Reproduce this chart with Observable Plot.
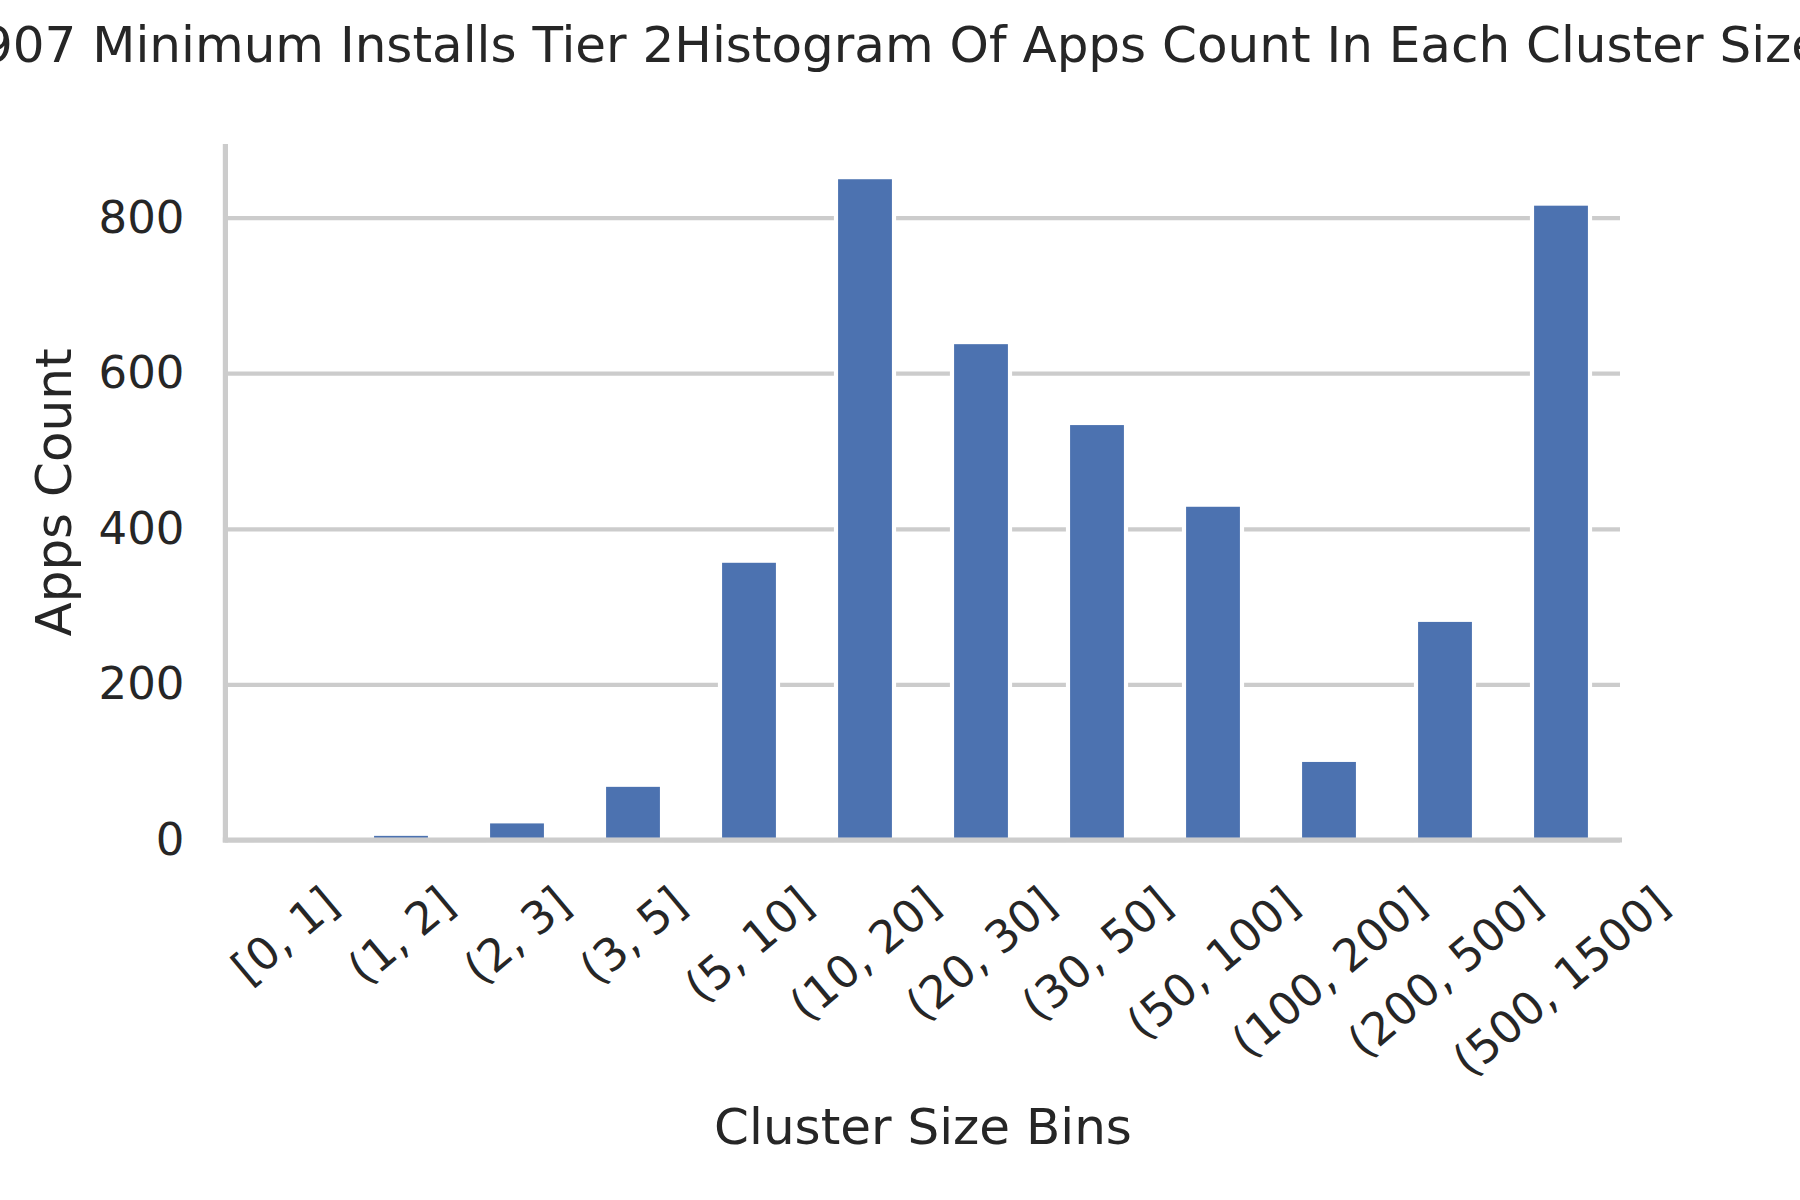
<!DOCTYPE html>
<html>
<head>
<meta charset="utf-8">
<script src="https://cdn.jsdelivr.net/npm/d3@7"></script>
<script src="https://cdn.jsdelivr.net/npm/@observablehq/plot@0.6"></script>
<style>
  html, body { margin: 0; padding: 0; background: #ffffff; overflow: hidden; }
  #wrap { position: relative; width: 1800px; height: 1200px; }
  #title { position: relative; width: 1800px; height: 95px; overflow: hidden; }
  #title span { position: absolute; top: 20px; left: -19px; white-space: nowrap;
    font-family: "DejaVu Sans"; font-size: 50px; line-height: 50px; color: #262626; }
  svg { display: block; }
</style>
</head>
<body>
<div id="wrap">
  <div id="title"><span>907 Minimum Installs Tier 2Histogram Of Apps Count In Each Cluster Size</span></div>
  <div id="chart"></div>
</div>
<script>
const bins = ["[0, 1]", "(1, 2]", "(2, 3]", "(3, 5]", "(5, 10]", "(10, 20]", "(20, 30]", "(30, 50]", "(50, 100]", "(100, 200]", "(200, 500]", "(500, 1500]"];
const counts = [1, 8, 24, 71, 359, 852, 640, 536, 431, 103, 283, 818];
const yTicks = [0, 200, 400, 600, 800];
const xLabel = "Cluster Size Bins";
const yLabel = "Apps Count";

const data = bins.map((b, i) => ({bin: b, count: counts[i]}));

const tickFont = 45;
const labelFont = 50;
const ink = "#262626";
const gridColor = "#cccccc";
const barColor = "#4c72b0";

const ctx = document.createElement("canvas").getContext("2d");
ctx.font = `${tickFont}px "DejaVu Sans"`;
const ang = 40 * Math.PI / 180;
// matplotlib-like: rotated tick label bbox hangs below the axis by a fixed pad, centered on tick
const tickPad = 43;
const xTickMarks = bins.map(b => {
  const w = ctx.measureText(b).width - 0.1 * tickFont;
  const h = 0.89 * tickFont;
  const H = w * Math.sin(ang) + h * Math.cos(ang);
  return Plot.text([b], {
    x: d => d, frameAnchor: "bottom", dy: tickPad + H / 2,
    text: d => d, rotate: -40, textAnchor: "middle", lineAnchor: "middle",
    fontSize: tickFont, fill: ink
  });
});

const spines = (index, scales, values, dims) => {
  const ns = "http://www.w3.org/2000/svg";
  const g = document.createElementNS(ns, "g");
  const y0 = scales.y(0);
  const left = document.createElementNS(ns, "line");
  left.setAttribute("x1", dims.marginLeft + 0.4);
  left.setAttribute("x2", dims.marginLeft + 0.4);
  left.setAttribute("y1", dims.marginTop);
  left.setAttribute("y2", y0 + 2.6);
  left.setAttribute("stroke", gridColor);
  left.setAttribute("stroke-width", 5.2);
  const bottom = document.createElementNS(ns, "line");
  bottom.setAttribute("x1", dims.marginLeft - 2.2);
  bottom.setAttribute("x2", dims.width - dims.marginRight + 2);
  bottom.setAttribute("y1", y0);
  bottom.setAttribute("y2", y0);
  bottom.setAttribute("stroke", gridColor);
  bottom.setAttribute("stroke-width", 5.2);
  g.appendChild(left);
  g.appendChild(bottom);
  return g;
};

const chart = Plot.plot({
  width: 1800,
  height: 1105,
  marginTop: 49,
  marginBottom: 360,
  marginLeft: 225,
  marginRight: 180,
  style: {fontFamily: "DejaVu Sans", fontSize: `${tickFont}px`, color: ink, background: "#ffffff"},
  x: {type: "band", domain: bins, paddingInner: 0.5, paddingOuter: 0.25, axis: null},
  y: {domain: [0, d3.max(counts) * 1.05], axis: null},
  marks: [
    Plot.gridY(yTicks, {stroke: gridColor, strokeWidth: 4.17, strokeOpacity: 1}),
    Plot.barY(data, {x: "bin", y: "count", fill: barColor, stroke: "#ffffff", strokeWidth: 4.17}),
    spines,
    Plot.axisY(yTicks, {tickSize: 0, tickPadding: 41, fontSize: tickFont, fill: ink, label: null}),
    ...xTickMarks,
    Plot.text([xLabel], {frameAnchor: "bottom", dy: 287, text: d => d, textAnchor: "middle", lineAnchor: "middle", fontSize: labelFont, fill: ink}),
    Plot.text([yLabel], {frameAnchor: "left", dx: -171, text: d => d, rotate: -90, textAnchor: "middle", lineAnchor: "middle", fontSize: labelFont, fill: ink})
  ]
});
document.getElementById("chart").appendChild(chart);
</script>
</body>
</html>
